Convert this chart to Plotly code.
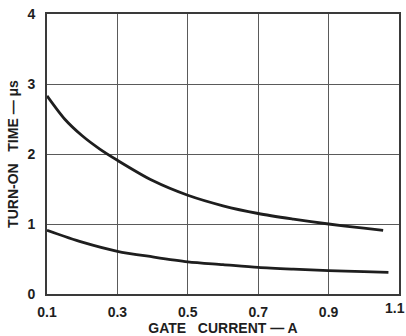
import plotly.graph_objects as go

# Turn-on time vs gate current, two characteristic curves
gate_current_upper = [0.1, 0.15, 0.2, 0.25, 0.3, 0.4, 0.5, 0.6, 0.7, 0.8, 0.9, 1.0, 1.055]
turn_on_upper = [2.83, 2.50, 2.26, 2.07, 1.91, 1.62, 1.41, 1.26, 1.15, 1.07, 1.00, 0.94, 0.91]

gate_current_lower = [0.1, 0.2, 0.3, 0.4, 0.5, 0.6, 0.7, 0.8, 0.9, 1.0, 1.07]
turn_on_lower = [0.91, 0.74, 0.61, 0.53, 0.46, 0.42, 0.38, 0.355, 0.335, 0.32, 0.31]

x_ticks = [0.1, 0.3, 0.5, 0.7, 0.9]
x_tick_text = ["0.1", "0.3", "0.5", "0.7", "0.9"]
x_last_tick = 1.1
y_ticks = [0, 1, 2, 3, 4]

ink = "#1e1e1e"
font = dict(family="Liberation Sans, Arial, sans-serif", size=14, color=ink)

fig = go.Figure()
for xs, ys in [(gate_current_upper, turn_on_upper), (gate_current_lower, turn_on_lower)]:
    fig.add_trace(go.Scatter(x=xs, y=ys, mode="lines",
                             line=dict(color=ink, width=2.8, shape="spline", smoothing=0.8),
                             showlegend=False, hoverinfo="skip"))

# the last x label sits on the right border and would be dropped by the axis
fig.add_annotation(x=x_last_tick, y=0, xref="x", yref="paper", yanchor="top", xanchor="center",
                   yshift=-4, xshift=-4, text=f"<b>{x_last_tick}</b>", showarrow=False, font=font)

fig.update_layout(
    width=406, height=336,
    margin=dict(l=47, r=7, t=14, b=42),
    paper_bgcolor="white", plot_bgcolor="white",
    font=font,
)
fig.update_xaxes(
    range=[0.1, 1.1], tickvals=x_ticks, ticktext=[f"<b>{t}</b>" for t in x_tick_text],
    showgrid=True, gridcolor="#5a5a5a", gridwidth=1.3,
    showline=True, linecolor="#3a3a3a", linewidth=1.6, mirror=True,
    ticks="", zeroline=False, ticklabelstandoff=4, automargin=False,
    title=dict(text="<b>GATE   CURRENT — A</b>", font=dict(size=14, color=ink), standoff=6),
)
fig.update_yaxes(
    range=[0, 4], tickvals=y_ticks, ticktext=[f"<b>{t}</b>" for t in y_ticks],
    showgrid=True, gridcolor="#5a5a5a", gridwidth=1.3,
    showline=True, linecolor="#3a3a3a", linewidth=1.6, mirror=True,
    ticks="", zeroline=False, ticklabelstandoff=7, automargin=False,
    title=dict(text="<b>TURN-ON   TIME — μs</b>", font=dict(size=14, color=ink), standoff=6),
)

fig.write_html("out.html")
